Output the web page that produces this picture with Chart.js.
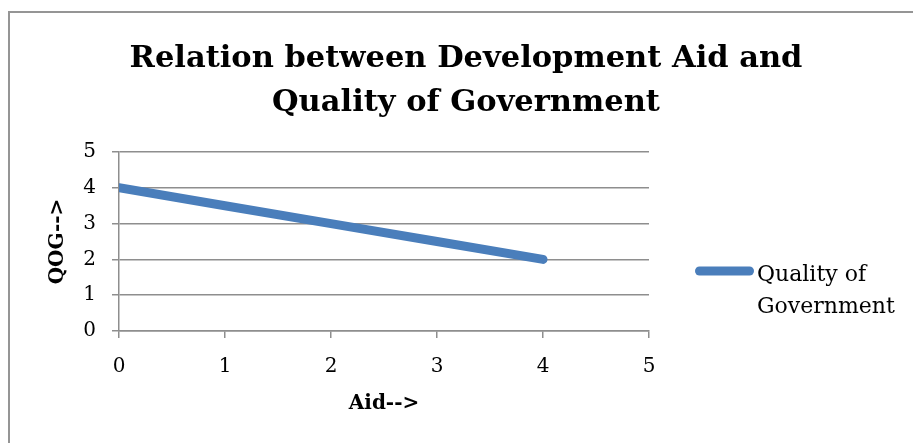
<!DOCTYPE html>
<html>
<head>
<meta charset="utf-8">
<title>Relation between Development Aid and Quality of Government</title>
<script src="https://cdn.jsdelivr.net/npm/chart.js@4.4.1/dist/chart.umd.min.js"></script>
<style>
    html, body { margin: 0; padding: 0; background: #fff; overflow: hidden; }
    .chart-frame {
        position: absolute; left: 8px; top: 11px; width: 960px; height: 480px;
        border-left: 2px solid #959595; border-top: 2px solid #959595;
    }
    .chart-box { position: absolute; left: 0; top: 0; width: 913px; height: 443px; }
</style>
</head>
<body>
<div class="chart-frame"></div>
<div class="chart-box"><canvas id="aid-qog-chart" width="913" height="443"></canvas></div>
<script>
const aidValues = [0, 1, 2, 3, 4];
const qogValues = [4, 3.5, 3, 2.5, 2];
const axisTicks = [0, 1, 2, 3, 4, 5];
const titleLines = ['Relation between Development Aid and', 'Quality of Government'];
const seriesLabel = 'Quality of Government';
const legendLines = ['Quality of', 'Government'];
const xTitle = 'Aid-->';
const yTitle = 'QOG-->';

(() => {
    const serif = '"DejaVu Serif", "Liberation Serif", serif';
    const gridColor = '#8e8e8e';

    // title and the right-hand key are drawn here so they can sit outside the plot box
    const titleAndKey = {
        id: 'titleAndKey',
        afterDraw(chart) {
            const { ctx } = chart;
            const dataset = chart.data.datasets[0];
            ctx.save();
            ctx.fillStyle = '#000';
            ctx.textBaseline = 'alphabetic';

            ctx.textAlign = 'center';
            ctx.font = `bold 30.5px ${serif}`;
            titleLines.forEach((line, i) => ctx.fillText(line, 466, 67 + i * 44));

            ctx.strokeStyle = dataset.borderColor;
            ctx.lineWidth = dataset.borderWidth;
            ctx.lineCap = 'round';
            ctx.beginPath();
            ctx.moveTo(699.5, 271);
            ctx.lineTo(749.5, 271);
            ctx.stroke();

            ctx.textAlign = 'left';
            ctx.font = `22px ${serif}`;
            legendLines.forEach((line, i) => ctx.fillText(line, 757, 281 + i * 32));
            ctx.restore();
        },
    };

    const setTicks = (scale) => {
        scale.ticks = axisTicks.map((value) => ({ value }));
    };

    const canvas = document.getElementById('aid-qog-chart');

    new Chart(canvas, {
        type: 'line',
        data: {
            datasets: [{
                label: seriesLabel,
                data: aidValues.map((x, i) => ({ x, y: qogValues[i] })),
                borderColor: '#4a7ebb',
                backgroundColor: '#4a7ebb',
                borderWidth: 9,
                borderCapStyle: 'round',
                borderJoinStyle: 'round',
                pointRadius: 0,
                tension: 0,
                clip: { left: 0, top: false, right: false, bottom: false },
            }],
        },
        options: {
            responsive: false,
            animation: false,
            devicePixelRatio: 1,
            layout: {
                padding: { left: 8, top: 152, right: 264, bottom: 0 },
            },
            plugins: {
                legend: { display: false },
                title: { display: false },
                tooltip: { enabled: false },
            },
            scales: {
                x: {
                    type: 'linear',
                    min: axisTicks[0],
                    max: axisTicks[axisTicks.length - 1],
                    afterBuildTicks: setTicks,
                    afterFit: (scale) => { scale.height = 112; },
                    grid: {
                        drawOnChartArea: false,
                        drawTicks: true,
                        tickLength: 7,
                        color: gridColor,
                        lineWidth: 1.5,
                    },
                    border: { display: true, color: gridColor, width: 1.5 },
                    ticks: {
                        padding: 17,
                        color: '#000',
                        maxRotation: 0,
                        font: { family: serif, size: 20 },
                    },
                    title: {
                        display: true,
                        text: xTitle,
                        color: '#000',
                        padding: { top: 0, bottom: 27 },
                        font: { family: serif, size: 20, weight: 'bold' },
                    },
                },
                y: {
                    min: axisTicks[0],
                    max: axisTicks[axisTicks.length - 1],
                    afterBuildTicks: setTicks,
                    afterFit: (scale) => { scale.width = 111; },
                    grid: {
                        drawTicks: true,
                        tickLength: 7,
                        color: gridColor,
                        lineWidth: 1.5,
                    },
                    border: { display: true, color: gridColor, width: 1.5 },
                    ticks: {
                        padding: 16,
                        color: '#000',
                        font: { family: serif, size: 20 },
                    },
                    title: {
                        display: true,
                        text: yTitle,
                        color: '#000',
                        padding: { top: 38, bottom: 0 },
                        font: { family: serif, size: 20, weight: 'bold' },
                    },
                },
            },
        },
        plugins: [titleAndKey],
    });
})();
</script>
</body>
</html>
